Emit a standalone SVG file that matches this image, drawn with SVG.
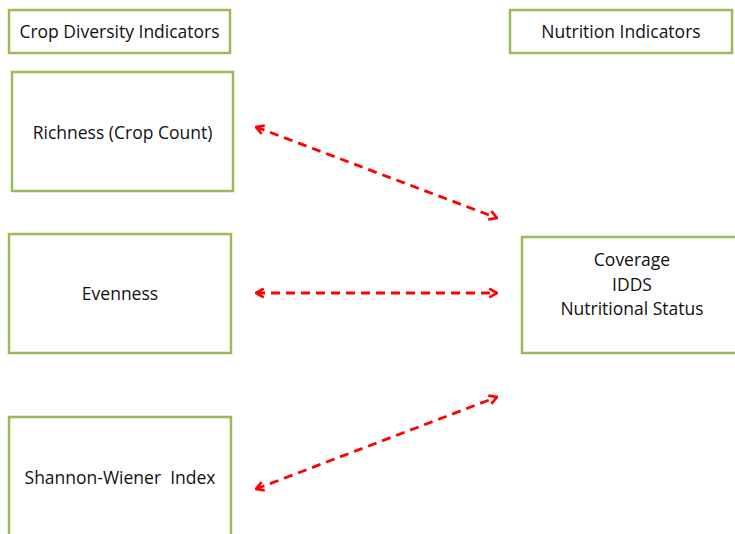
<svg xmlns="http://www.w3.org/2000/svg" width="735" height="534" viewBox="0 0 735 534">
<defs>
<style>
.box{fill:#fff;stroke:#9bbb59;stroke-width:2.5}
.t{font-family:"Open Sans","Liberation Sans",sans-serif;font-size:17.5px;fill:#111;text-anchor:middle;white-space:pre}
.c{stroke:#ff0000;stroke-width:2.8;stroke-dasharray:9 6;fill:none}
</style>
<marker id="ah" viewBox="0 0 10 10" refX="9" refY="5" markerWidth="11" markerHeight="11" markerUnits="userSpaceOnUse" orient="auto-start-reverse">
<path d="M2,1 L9,5 L2,9" fill="none" stroke="#ff0000" stroke-width="2.4"/>
</marker>
</defs>
<rect width="735" height="534" fill="#fff"/>
<g id="crop-diversity-indicators">
<rect class="box" x="9" y="10" width="221" height="43"/>
<text class="t" x="119.5" y="38">Crop Diversity Indicators</text>
</g>
<g id="nutrition-indicators">
<rect class="box" x="510" y="10" width="222" height="43"/>
<text class="t" x="621" y="38">Nutrition Indicators</text>
</g>
<g id="richness">
<rect class="box" x="12" y="72" width="221" height="119"/>
<text class="t" x="122.5" y="138.5">Richness (Crop Count)</text>
</g>
<g id="evenness">
<rect class="box" x="9" y="234" width="222" height="119"/>
<text class="t" x="120" y="300">Evenness</text>
</g>
<g id="shannon">
<rect class="box" x="9" y="417" width="222" height="130"/>
<text class="t" x="120" y="483.5">Shannon-Wiener  Index</text>
</g>
<g id="nutrition-outcomes">
<rect class="box" x="522" y="237" width="225" height="116"/>
<text class="t" x="632" y="266">Coverage</text>
<text class="t" x="632" y="290.5">IDDS</text>
<text class="t" x="632" y="315">Nutritional Status</text>
</g>
<g id="connectors">
<line class="c" x1="256" y1="127" x2="497" y2="218" marker-start="url(#ah)" marker-end="url(#ah)"/>
<line class="c" x1="256" y1="293" x2="497" y2="293" marker-start="url(#ah)" marker-end="url(#ah)"/>
<line class="c" x1="256" y1="489" x2="497" y2="397" marker-start="url(#ah)" marker-end="url(#ah)"/>
</g>
</svg>
